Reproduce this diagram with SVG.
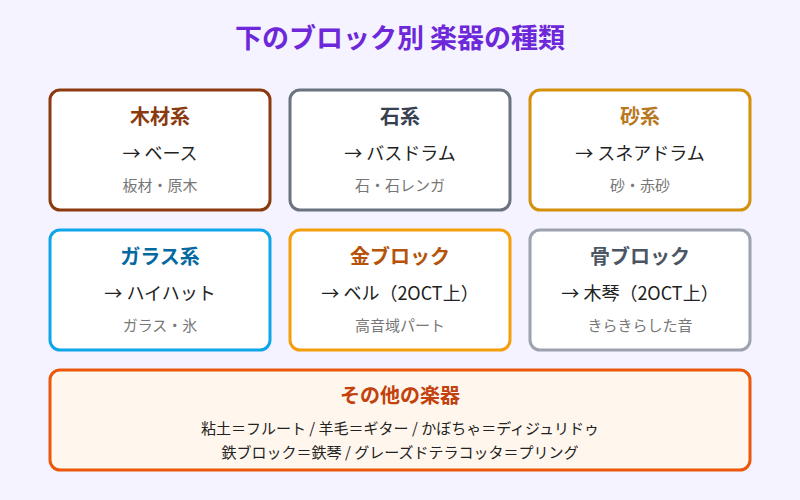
<svg xmlns="http://www.w3.org/2000/svg" width="800" height="500" viewBox="0 0 800 500">
<style>
text{font-family:"Noto Sans CJK JP","Noto Sans",sans-serif;text-anchor:middle}
.box{fill:#fff;stroke-width:3}
.h{font-size:20px;font-weight:bold}
.m{font-size:18px;fill:#222}
.s{font-size:15px;fill:#777}
.b{font-size:15px;fill:#222}
</style>
<rect width="800" height="500" fill="#f5f3ff"/>
<text x="400" y="48" font-size="27" font-weight="bold" fill="#6d28d9">下のブロック別 楽器の種類</text>
<g id="wood"><rect class="box" x="50" y="90" width="220" height="120" rx="10" stroke="#8b3a0f"/>
<text class="h" x="160" y="124" fill="#8b3a0f">木材系</text><text class="m" x="160" y="160">→ ベース</text><text class="s" x="160" y="191">板材・原木</text></g>
<g id="stone"><rect class="box" x="290" y="90" width="220" height="120" rx="10" stroke="#6b7280"/>
<text class="h" x="400" y="124" fill="#374151">石系</text><text class="m" x="400" y="160">→ バスドラム</text><text class="s" x="400" y="191">石・石レンガ</text></g>
<g id="sand"><rect class="box" x="530" y="90" width="220" height="120" rx="10" stroke="#d4900a"/>
<text class="h" x="640" y="124" fill="#b7791f">砂系</text><text class="m" x="640" y="160">→ スネアドラム</text><text class="s" x="640" y="191">砂・赤砂</text></g>
<g id="glass"><rect class="box" x="50" y="230" width="220" height="120" rx="10" stroke="#0ea5e9"/>
<text class="h" x="160" y="264" fill="#0369a1">ガラス系</text><text class="m" x="160" y="300">→ ハイハット</text><text class="s" x="160" y="331">ガラス・氷</text></g>
<g id="gold"><rect class="box" x="290" y="230" width="220" height="120" rx="10" stroke="#f59e0b"/>
<text class="h" x="400" y="264" fill="#b45309">金ブロック</text><text class="m" x="400" y="300">→ ベル（2OCT上）</text><text class="s" x="400" y="331">高音域パート</text></g>
<g id="bone"><rect class="box" x="530" y="230" width="220" height="120" rx="10" stroke="#9ca3af"/>
<text class="h" x="640" y="264" fill="#4b5563">骨ブロック</text><text class="m" x="640" y="300">→ 木琴（2OCT上）</text><text class="s" x="640" y="331">きらきらした音</text></g>
<g id="other"><rect x="50" y="370" width="700" height="100" rx="10" fill="#fff7ed" stroke="#ea580c" stroke-width="3"/>
<text class="h" x="400" y="403" fill="#c2410c">その他の楽器</text>
<text class="b" x="400" y="434">粘土＝フルート / 羊毛＝ギター / かぼちゃ＝ディジュリドゥ</text>
<text class="b" x="400" y="458">鉄ブロック＝鉄琴 / グレーズドテラコッタ＝プリング</text></g>
<g id="connectors"/>
</svg>
